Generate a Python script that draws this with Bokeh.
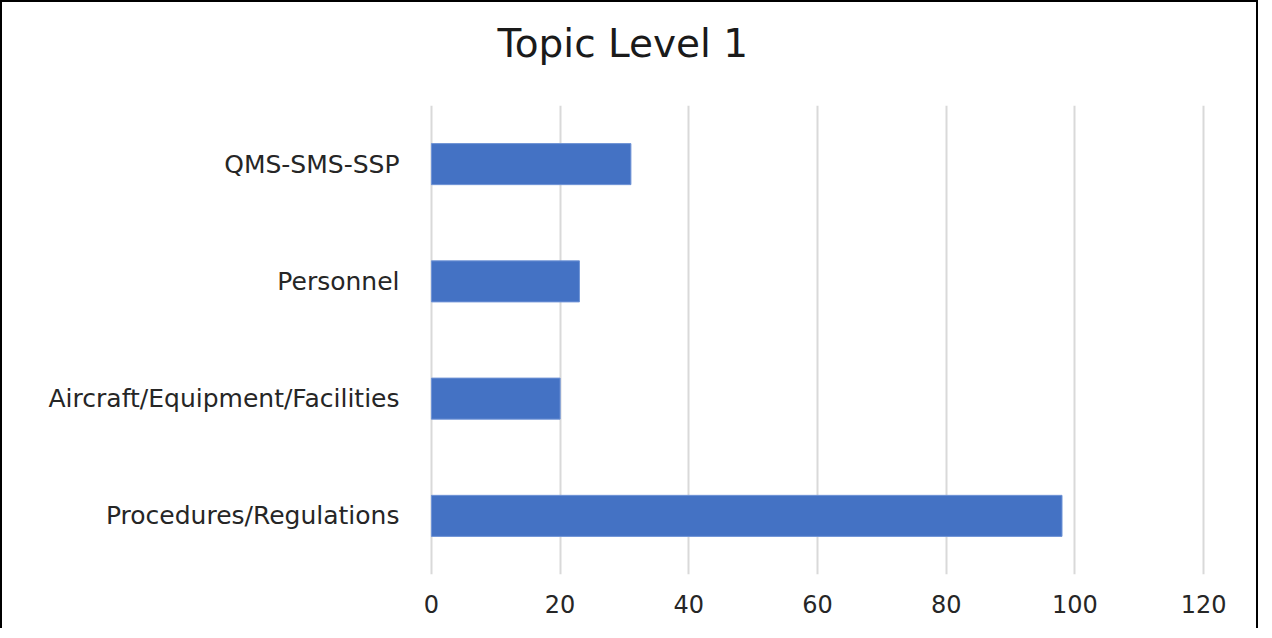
from bokeh.plotting import figure
from bokeh.models import FactorRange, Range1d, FixedTicker, Title
from bokeh.embed import file_html
from bokeh.resources import INLINE

categories = ["Procedures/Regulations", "Aircraft/Equipment/Facilities", "Personnel", "QMS-SMS-SSP"]
counts = [98, 20, 23, 31]
x_ticks = [0, 20, 40, 60, 80, 100, 120]
title_text = "Topic Level 1"

W, H = 1258, 628
p = figure(width=W, height=H, output_backend="svg", toolbar_location=None,
           y_range=FactorRange(*categories, range_padding=0),
           x_range=Range1d(-0.3, 120.3))
p.min_border_left = 427
p.min_border_right = 55
p.min_border_top = 103
p.min_border_bottom = 56
p.outline_line_color = None
p.background_fill_color = "white"
p.border_fill_color = "white"
p.styles = {"border-left": "2px solid black", "border-top": "2px solid black",
            "border-right": "2px solid black"}

p.hbar(y=categories, right=counts, left=0, height=0.35, color="#4472C4",
       line_color="#6F93D6", line_width=1)

p.xaxis.ticker = FixedTicker(ticks=x_ticks)
p.xgrid.ticker = FixedTicker(ticks=x_ticks)
p.xgrid.grid_line_color = "#D9D9D9"
p.xgrid.grid_line_width = 2
p.ygrid.grid_line_color = None

for ax in (p.xaxis, p.yaxis):
    ax.axis_line_color = None
    ax.major_tick_line_color = None
    ax.minor_tick_line_color = None
    ax.major_label_text_font = "DejaVu Sans"
    ax.major_label_text_color = "#262626"
p.xaxis.major_label_text_font_size = "24px"
p.xaxis.major_label_standoff = 14
p.yaxis.major_label_text_font_size = "25px"
p.yaxis.major_label_standoff = 24

# spacer between frame and title (nearest the frame), then the title itself
spacer = Title(text=" ", text_font_size="1px", standoff=37)
p.add_layout(spacer, "above")
t = Title(text=title_text, align="left", offset=68, standoff=0,
          text_font="DejaVu Sans", text_font_size="39px", text_font_style="normal",
          text_color="#1a1a1a")
p.add_layout(t, "above")

open("out.html", "w").write(file_html(p, INLINE))
